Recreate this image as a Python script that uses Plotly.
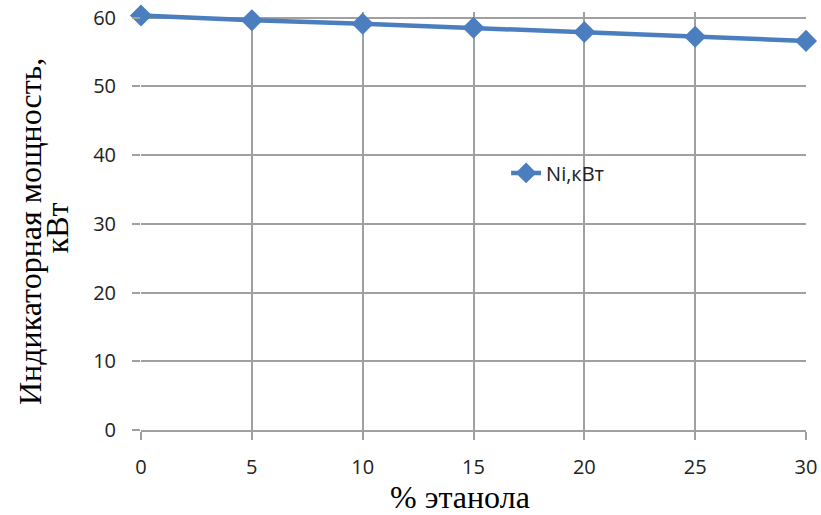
import plotly.graph_objects as go

ethanol = [0, 5, 10, 15, 20, 25, 30]
power_kw = [60.3, 59.6, 59.1, 58.5, 57.9, 57.2, 56.6]
series_name = "Ni,кВт"
x_title = "% этанола"
y_title_line1 = "Индикаторная мощность,"
y_title_line2 = "кВт"
y_ticks = [0, 10, 20, 30, 40, 50, 60]

blue = "#4a7ebf"
grid = "#a0a0a0"
tick_font = dict(family="Open Sans, sans-serif", size=20, color="#222")
title_font = dict(family="Liberation Serif, Times New Roman, serif", size=32, color="black")

fig = go.Figure()
fig.add_trace(go.Scatter(
    x=ethanol, y=power_kw, mode="lines+markers", name=series_name,
    line=dict(color=blue, width=4.5),
    marker=dict(symbol="diamond", size=17, color=blue),
    cliponaxis=False,
))

fig.update_layout(
    width=821, height=515,
    margin=dict(l=141, r=15, t=12, b=85),
    plot_bgcolor="white", paper_bgcolor="white",
    showlegend=True,
    legend=dict(x=0.549, y=0.615, xanchor="left", yanchor="middle",
                font=tick_font, bgcolor="rgba(0,0,0,0)"),
    annotations=[
        dict(text=y_title_line1, xref="paper", yref="paper", x=-0.1669, y=0.4737,
             textangle=-90, showarrow=False, font=title_font,
             xanchor="center", yanchor="middle"),
        dict(text=y_title_line2, xref="paper", yref="paper", x=-0.126, y=0.483,
             textangle=-90, showarrow=False, font=title_font,
             xanchor="center", yanchor="middle"),
        dict(text=x_title, xref="paper", yref="paper", x=0.48, y=-0.16,
             showarrow=False, font=title_font, xanchor="center", yanchor="middle"),
    ],
)
fig.update_xaxes(
    range=[0, 30], tickvals=ethanol, showgrid=True, gridcolor=grid, gridwidth=2,
    showline=True, linecolor=grid, linewidth=2, mirror=False,
    ticks="outside", ticklen=8, tickcolor=grid, tickwidth=2,
    tickfont=tick_font, ticklabelstandoff=10,
    zeroline=False, automargin=False,
)
fig.update_yaxes(
    range=[0, 60.8], tickvals=y_ticks, showgrid=True, gridcolor=grid, gridwidth=2,
    showline=False,
    ticks="outside", ticklen=8, tickcolor=grid, tickwidth=2,
    tickfont=tick_font, ticklabelstandoff=12,
    zeroline=False, automargin=False,
)
fig.write_html("out.html")
